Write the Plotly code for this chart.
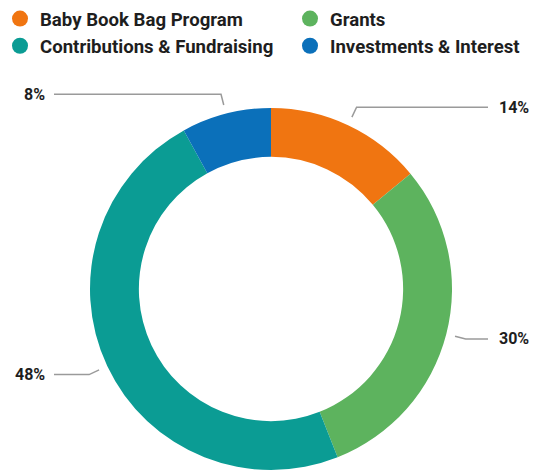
import math
import plotly.graph_objects as go

labels = ["Baby Book Bag Program", "Grants", "Contributions & Fundraising", "Investments & Interest"]
values = [14, 30, 48, 8]
colors = ["#F07511", "#5DB35E", "#0B9C94", "#0B70BA"]
label_text = ["14%", "30%", "48%", "8%"]

W, H = 536, 470
CX, CY, R = 271, 289, 181

def px(x):
    return x / W

def py(y):
    return 1 - y / H

fig = go.Figure()
fig.add_trace(go.Pie(
    labels=labels, values=values, marker=dict(colors=colors, line=dict(width=0)),
    hole=0.73, sort=False, direction="clockwise", rotation=0,
    textinfo="none", hoverinfo="label+percent", showlegend=False,
    domain=dict(x=[px(CX - R), px(CX + R)], y=[py(CY + R), py(CY - R)]),
))

# legend entries (circle symbols) in two columns
legend_of = ["legend", "legend2", "legend", "legend2"]
for lab, col, lg in zip(labels, colors, legend_of):
    fig.add_trace(go.Scatter(
        x=[None], y=[None], mode="markers", name=lab, legend=lg,
        marker=dict(symbol="circle", size=20, color=col), showlegend=True,
    ))

# outside labels with leader lines derived from slice angles
shapes = []
annotations = []
total = sum(values)
cum = 0
for v, t in zip(values, label_text):
    mid = (cum + v / 2) / total * 2 * math.pi
    cum += v
    s, c = math.sin(mid), math.cos(mid)
    x0, y0 = CX + 190 * s, CY - 190 * c
    x1, y1 = CX + 201 * s, CY - 201 * c
    right = s >= 0
    x2 = 488 if right else 54
    path = f"M {px(x0)} {py(y0)} L {px(x1)} {py(y1)} L {px(x2)} {py(y1)}"
    shapes.append(dict(type="path", path=path, xref="paper", yref="paper",
                       line=dict(color="#9a9a9a", width=1.5)))
    annotations.append(dict(
        x=px(497 if right else 47), y=py(y1), xref="paper", yref="paper",
        text=t, showarrow=False, xanchor="left" if right else "right", yanchor="middle",
        font=dict(family="Roboto", size=16, color="#1e1e1e", weight="bold"),
    ))

legend_font = dict(family="Roboto", size=18.6, color="#1e1e1e", weight="bold")
fig.update_layout(
    width=W, height=H,
    margin=dict(l=0, r=0, t=0, b=0),
    paper_bgcolor="white", plot_bgcolor="white",
    xaxis=dict(visible=False), yaxis=dict(visible=False),
    shapes=shapes, annotations=annotations,
    legend=dict(x=0, y=1, xanchor="left", yanchor="top", orientation="v",
                font=legend_font, itemsizing="trace", tracegroupgap=0,
                bgcolor="rgba(0,0,0,0)"),
    legend2=dict(x=px(290), y=1, xanchor="left", yanchor="top", orientation="v",
                 font=legend_font, itemsizing="trace", tracegroupgap=0,
                 bgcolor="rgba(0,0,0,0)"),
)

fig.write_html("out.html", config={"displayModeBar": False},
               post_script="document.body.style.margin='0';")
